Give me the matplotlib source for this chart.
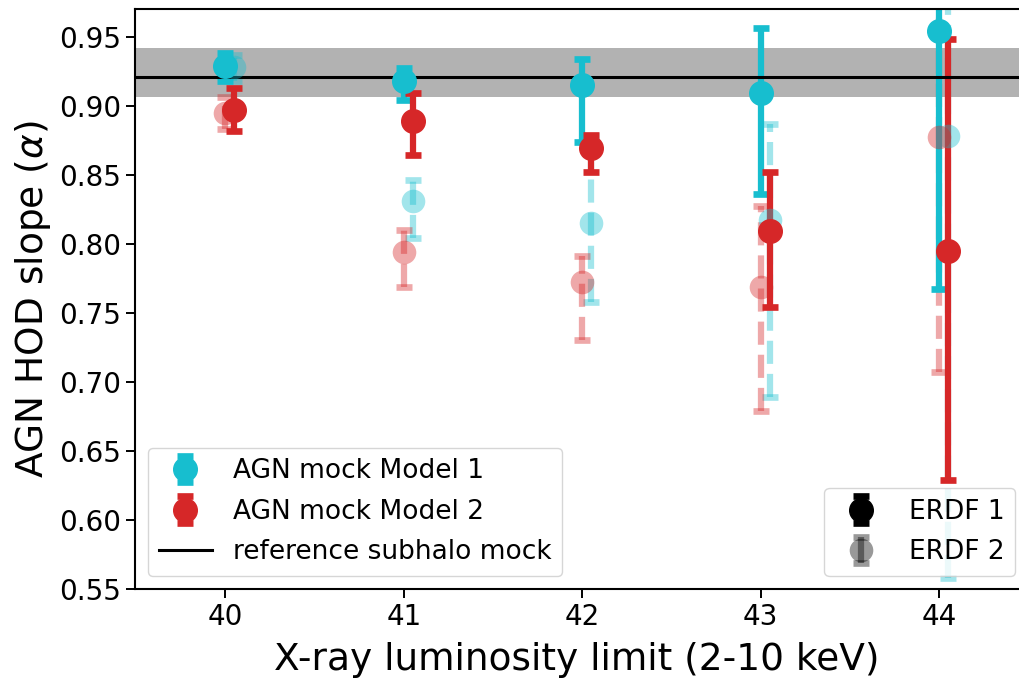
import numpy as np
import matplotlib
matplotlib.use("Agg")
import matplotlib.pyplot as plt

# X-ray luminosity limits (log L, 2-10 keV)
lum_limits = [40, 41, 42, 43, 44]

# ERDF 1 fits
m1_erdf1 = [0.929, 0.918, 0.915, 0.909, 0.954]
m1_erdf1_lo = [0.011, 0.014, 0.041, 0.073, 0.187]
m1_erdf1_hi = [0.009, 0.009, 0.019, 0.047, 0.030]

m2_erdf1 = [0.897, 0.889, 0.869, 0.809, 0.795]
m2_erdf1_lo = [0.015, 0.025, 0.017, 0.055, 0.166]
m2_erdf1_hi = [0.016, 0.020, 0.010, 0.043, 0.153]

# ERDF 2 fits
m1_erdf2 = [0.928, 0.831, 0.815, 0.817, 0.878]
m1_erdf2_lo = [0.010, 0.027, 0.057, 0.128, 0.320]
m1_erdf2_hi = [0.009, 0.015, 0.063, 0.070, 0.120]

m2_erdf2 = [0.895, 0.794, 0.772, 0.769, 0.877]
m2_erdf2_lo = [0.012, 0.025, 0.042, 0.090, 0.170]
m2_erdf2_hi = [0.011, 0.016, 0.019, 0.058, 0.120]

# Reference subhalo mock slope and its uncertainty band
ref_slope = 0.921
ref_band = (0.906, 0.942)

CYAN = "#17becf"
RED = "#d62728"

fig = plt.figure(figsize=(10.19, 6.80), dpi=100)
ax = fig.add_axes([0.1325, 0.1338, 0.8675, 0.853])

x = np.array(lum_limits, dtype=float)
shift = 0.05

common = dict(fmt="o", ms=17, elinewidth=4.5, capsize=6, capthick=4.8)


def faded_errorbar(xv, yv, lo, hi, color, **kw):
    """Semi-transparent ERDF 2 point with dashed error bars."""
    eb = ax.errorbar(xv, yv, yerr=[lo, hi], color=color, alpha=0.4,
                     **common, **kw)
    eb[0].set_markeredgewidth(0)
    eb[2][0].set_linestyle("--")
    return eb


faded_errorbar(x + shift, m1_erdf2, m1_erdf2_lo, m1_erdf2_hi, CYAN)
faded_errorbar(x, m2_erdf2, m2_erdf2_lo, m2_erdf2_hi, RED)

ax.axhspan(ref_band[0], ref_band[1], color="k", alpha=0.3, lw=0, zorder=1)

# ERDF 1 points
h1 = ax.errorbar(x, m1_erdf1, yerr=[m1_erdf1_lo, m1_erdf1_hi],
                 color=CYAN, label="AGN mock Model 1", **common)
h2 = ax.errorbar(x + shift, m2_erdf1, yerr=[m2_erdf1_lo, m2_erdf1_hi],
                 color=RED, label="AGN mock Model 2", **common)
h3 = ax.axhline(ref_slope, color="k", lw=2.2, label="reference subhalo mock")

ax.set_xlim(39.494, 44.447)
ax.set_ylim(0.55, 0.97)
ax.set_xticks(lum_limits)
ax.set_yticks(np.arange(0.55, 0.951, 0.05))
ax.yaxis.set_major_formatter(matplotlib.ticker.FormatStrFormatter("%.2f"))
ax.tick_params(labelsize=20, width=1.4, length=6.5)
for s in ax.spines.values():
    s.set_linewidth(1.5)
ax.spines["right"].set_visible(False)

ax.set_xlabel("X-ray luminosity limit (2-10 keV)", fontsize=27, labelpad=8)
ax.set_ylabel(r"AGN HOD slope ($\alpha$)", fontsize=27)

leg1 = ax.legend(handles=[h1, h2, h3], loc="lower left", fontsize=19,
                 bbox_to_anchor=(0.0, 0.0), handlelength=2.0,
                 borderpad=0.4, labelspacing=0.55)
ax.add_artist(leg1)

p1 = ax.errorbar([np.nan], [np.nan], yerr=[[np.nan], [np.nan]], color="k",
                 label="ERDF 1", **common)
p2 = faded_errorbar([np.nan], [np.nan], [np.nan], [np.nan], "k",
                    label="ERDF 2")
p2[2][0].set_linestyle("-")
ax.legend(handles=[p1, p2], loc="lower right", fontsize=19,
          bbox_to_anchor=(1.0105, 0.0), borderpad=0.4, labelspacing=0.55)

fig.savefig("out.png", dpi=100)
